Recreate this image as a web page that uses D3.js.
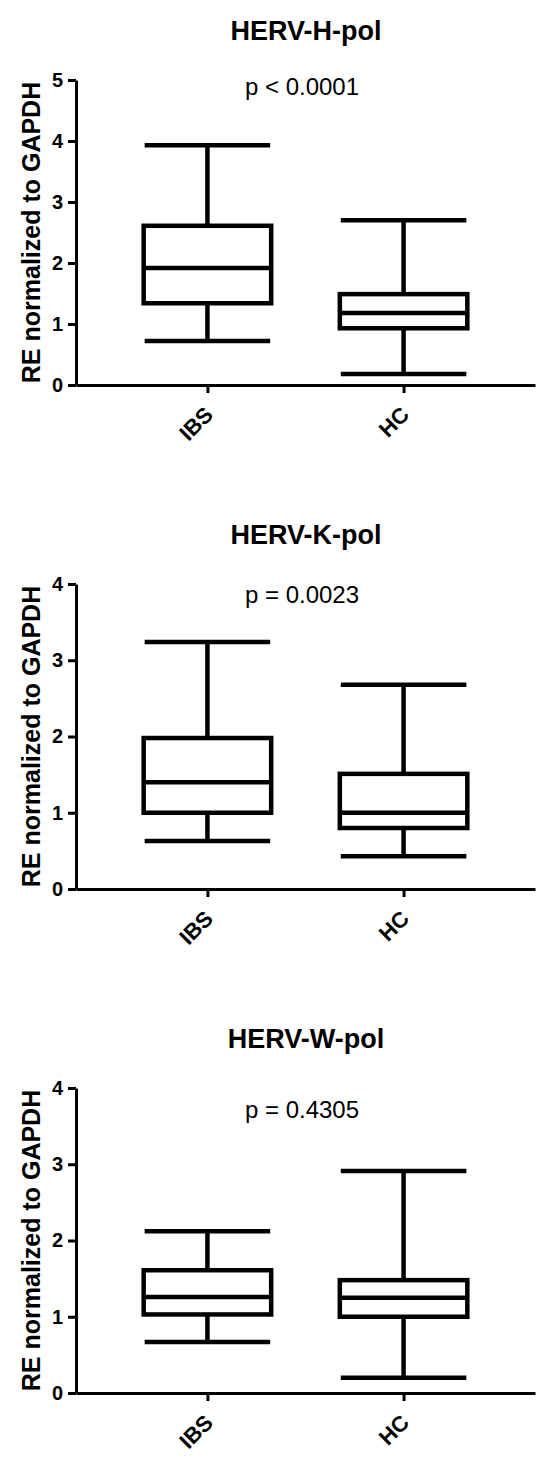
<!DOCTYPE html>
<html>
<head>
<meta charset="utf-8">
<script src="https://cdn.jsdelivr.net/npm/d3@7"></script>
<style>
  body { margin: 0; background: #fff; }
  svg text { font-family: "Liberation Sans", Arial, sans-serif; fill: #000; }
  .axis path, .axis line { stroke: #000; stroke-width: 3px; }
</style>
</head>
<body>
<div class="graph"></div>
<script>
/*--------------- DATA -------------*/
const groups = ["IBS", "HC"];
const titles = ["HERV-H-pol", "HERV-K-pol", "HERV-W-pol"];
const pLabels = ["p < 0.0001", "p = 0.0023", "p = 0.4305"];
const yMax = [5, 4, 4];
const yTicks = [[0, 1, 2, 3, 4, 5], [0, 1, 2, 3, 4], [0, 1, 2, 3, 4]];

// each box: [min, q1, median, q3, max]
const hervH = [[0.72, 1.34, 1.92, 2.61, 3.93], [0.18, 0.93, 1.18, 1.49, 2.70]];
const hervK = [[0.63, 1.00, 1.40, 1.98, 3.24], [0.43, 0.80, 1.00, 1.51, 2.68]];
const hervW = [[0.67, 1.03, 1.26, 1.61, 2.12], [0.20, 1.00, 1.25, 1.48, 2.91]];
const allStats = [hervH, hervK, hervW];

/*--------------- LAYOUT -------------*/
const SIZE = {X: 550, Y: 1461};
const PLOT = {LEFT: 76, RIGHT: 535, HEIGHT: 305};
const PANEL_TOP = [80, 584, 1088];
const P_OFFSET = [15, 19, 30];

const svg = d3.select(".graph").append("svg")
    .attr("width", SIZE.X)
    .attr("height", SIZE.Y);

//x scale shared by all panels
const x = d3.scalePoint()
    .domain(groups)
    .range([PLOT.LEFT, PLOT.RIGHT])
    .padding(0.67);

const boxW = x.step() * 0.65;
const capW = x.step() * 0.32;

allStats.forEach((stats, i) => {
    const top = PANEL_TOP[i];
    const bottom = top + PLOT.HEIGHT;

    const y = d3.scaleLinear()
        .domain([0, yMax[i]])
        .range([bottom, top]);

    const g = svg.append("g");

    //title
    g.append("text")
        .attr("x", 306)
        .attr("y", top - 40)
        .attr("text-anchor", "middle")
        .style("font-size", "27px")
        .style("font-weight", "bold")
        .text(titles[i]);

    //p value
    g.append("text")
        .attr("x", 302)
        .attr("y", top + P_OFFSET[i])
        .attr("text-anchor", "middle")
        .style("font-size", "24px")
        .text(pLabels[i]);

    //y axis label
    g.append("text")
        .attr("transform", `translate(40, ${(top + bottom) / 2}) rotate(-90)`)
        .attr("text-anchor", "middle")
        .style("font-size", "25px")
        .style("font-weight", "bold")
        .text("RE normalized to GAPDH");

    //axes
    const yAxis = g.append("g")
        .attr("class", "axis")
        .attr("transform", `translate(${PLOT.LEFT}, 0)`)
        .call(d3.axisLeft(y).tickValues(yTicks[i]).tickSize(8).tickSizeOuter(0).tickPadding(5).tickFormat(d3.format("d")));
    yAxis.selectAll("text")
        .style("font-size", "20px")
        .style("font-weight", "bold")
        .style("font-family", "'Liberation Sans', Arial, sans-serif");

    const xAxis = g.append("g")
        .attr("class", "axis")
        .attr("transform", `translate(0, ${bottom})`)
        .call(d3.axisBottom(x).tickSize(8).tickSizeOuter(0));
    xAxis.selectAll("text").remove();

    groups.forEach((grp, j) => {
        const cx = x(grp);
        const [mn, q1, md, q3, mx] = stats[j];
        const box = g.append("g")
            .attr("stroke", "#000")
            .attr("fill", "none")
            .attr("stroke-width", 4.5);

        //whiskers
        box.append("line").attr("x1", cx).attr("x2", cx).attr("y1", y(mx)).attr("y2", y(q3));
        box.append("line").attr("x1", cx).attr("x2", cx).attr("y1", y(q1)).attr("y2", y(mn));
        box.append("line").attr("x1", cx - capW).attr("x2", cx + capW).attr("y1", y(mx)).attr("y2", y(mx));
        box.append("line").attr("x1", cx - capW).attr("x2", cx + capW).attr("y1", y(mn)).attr("y2", y(mn));

        //box + median
        box.append("rect")
            .attr("x", cx - boxW / 2)
            .attr("width", boxW)
            .attr("y", y(q3))
            .attr("height", y(q1) - y(q3));
        box.append("line").attr("x1", cx - boxW / 2).attr("x2", cx + boxW / 2).attr("y1", y(md)).attr("y2", y(md));

        //rotated category label
        g.append("text")
            .attr("transform", `translate(${cx + 7}, ${bottom + 31}) rotate(-45)`)
            .attr("text-anchor", "end")
            .style("font-size", "22px")
            .style("font-weight", "bold")
            .text(grp);
    });
});
</script>
</body>
</html>
